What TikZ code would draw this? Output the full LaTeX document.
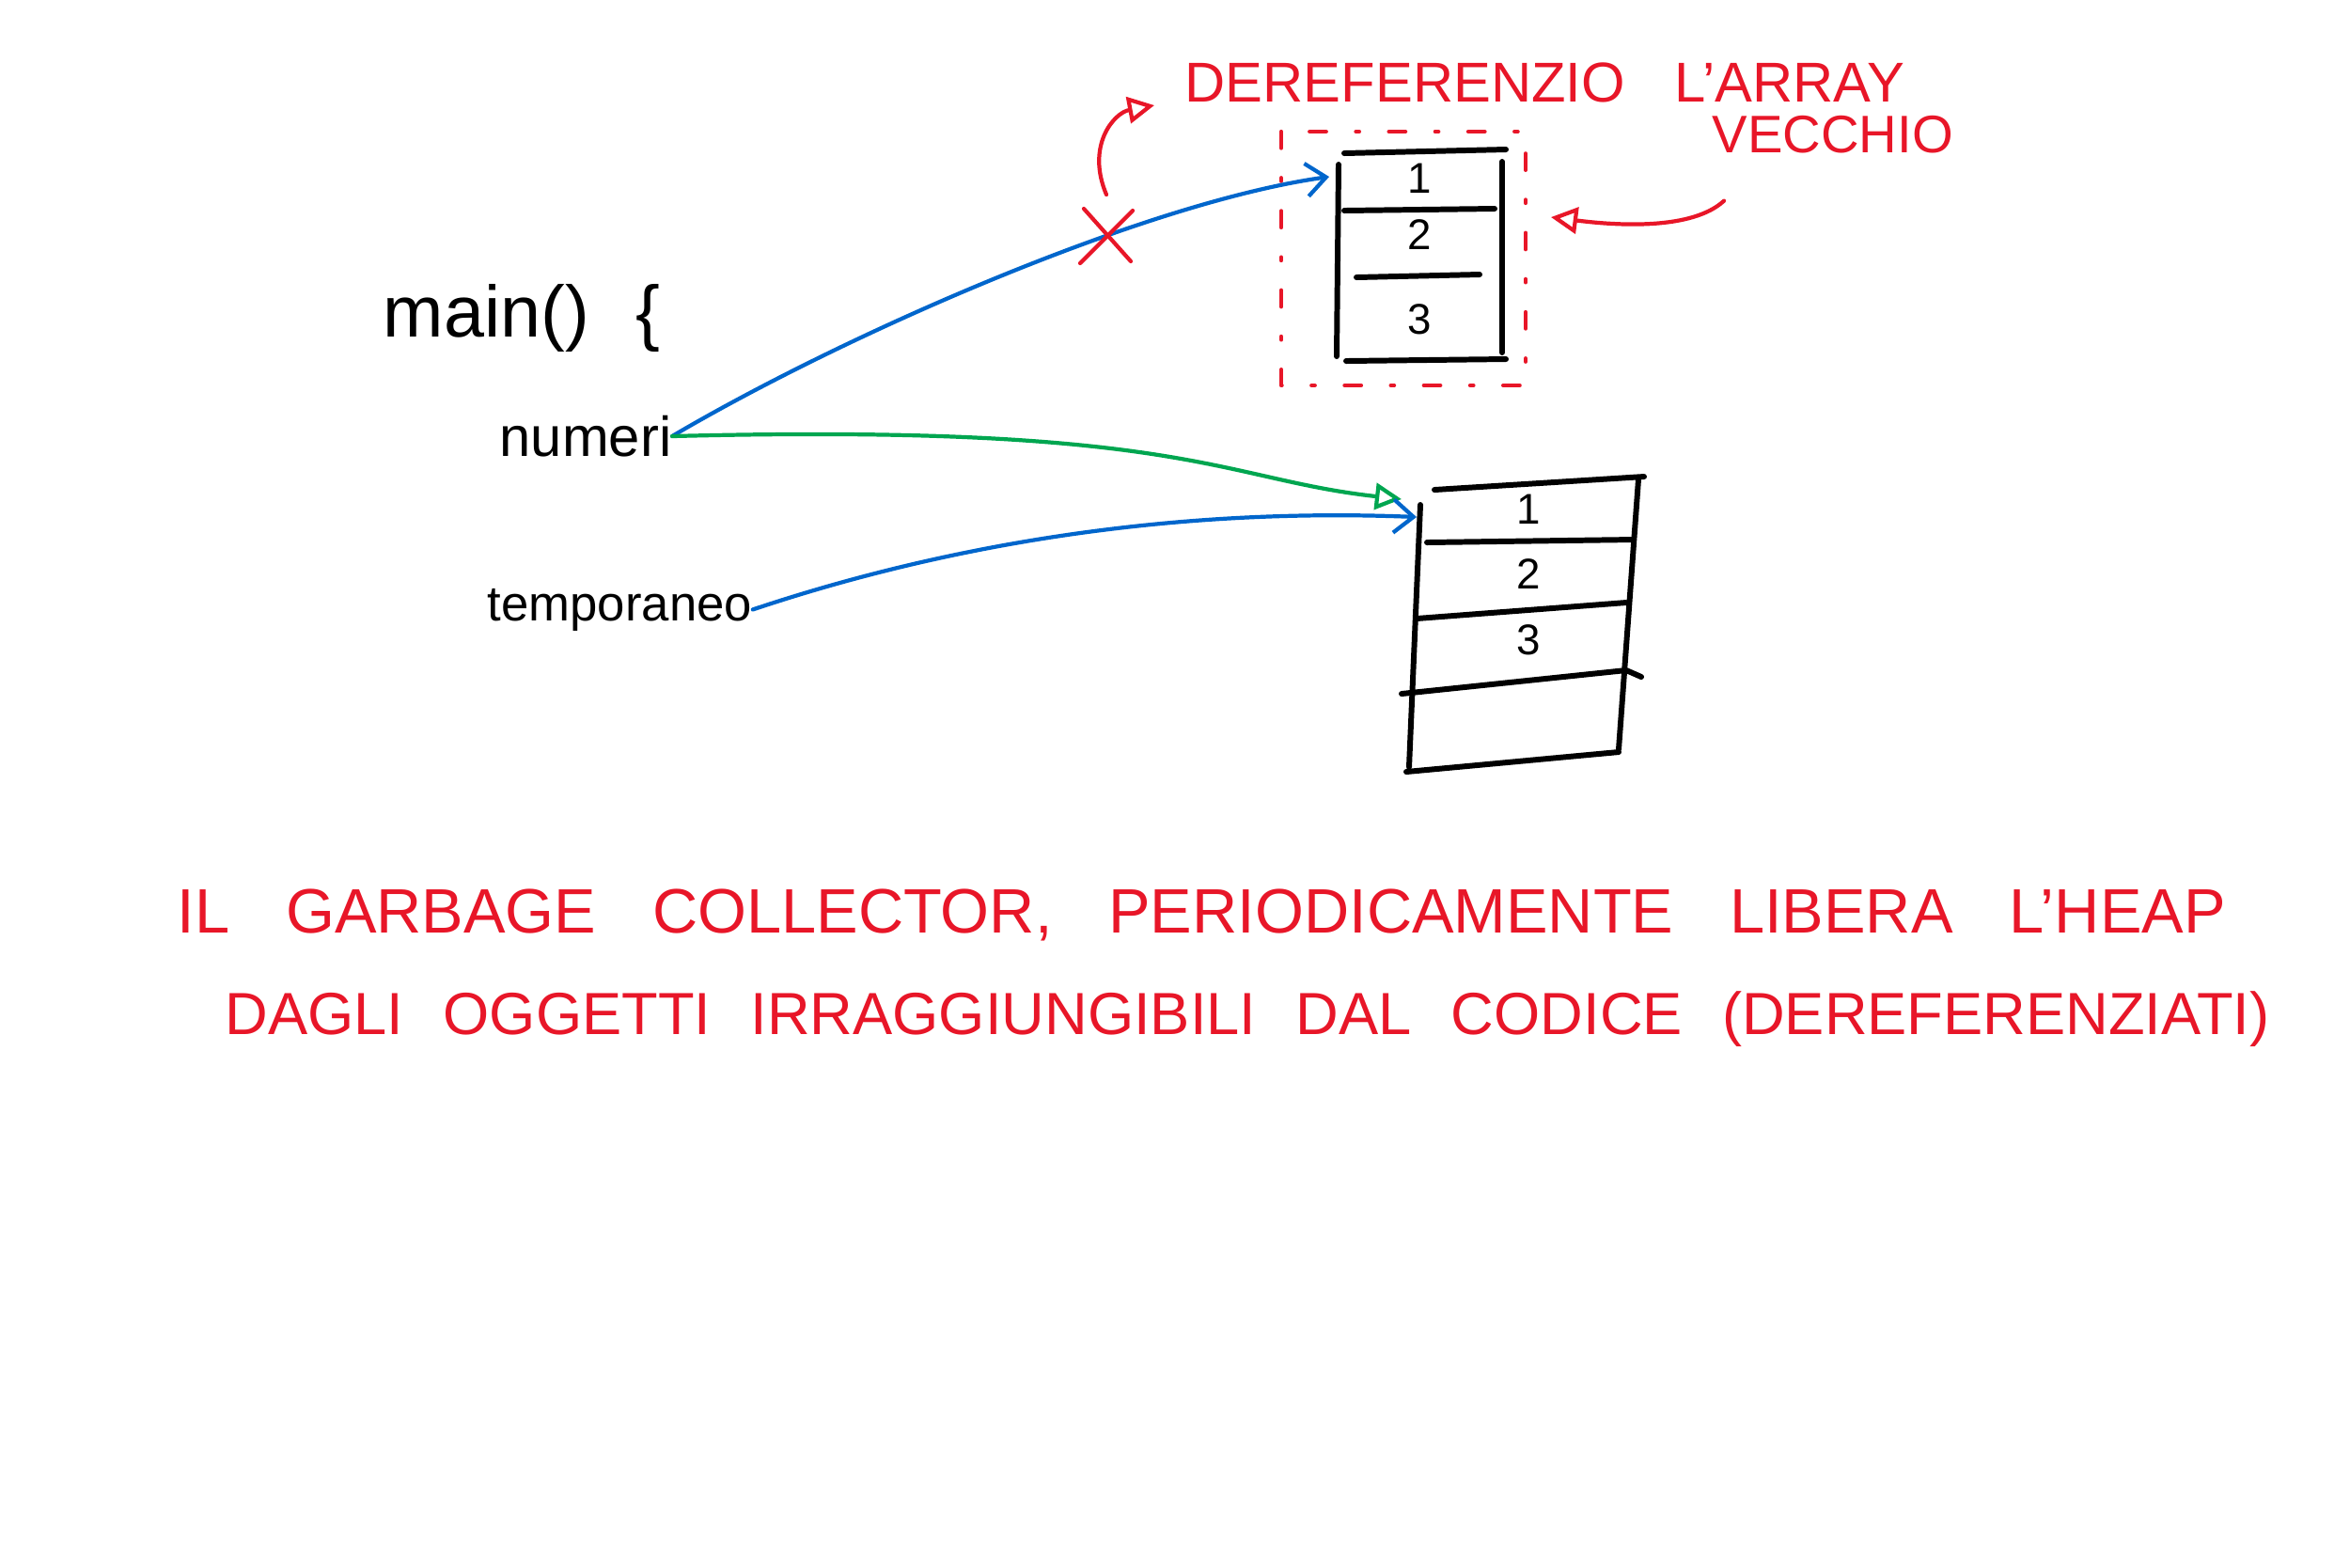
\documentclass[tikz,border=0pt]{standalone}
\usepackage{fontspec}
\setmainfont{Liberation Sans}
\usetikzlibrary{arrows.meta, positioning, calc}
\definecolor{penred}{RGB}{232,22,40}
\definecolor{penblue}{RGB}{0,102,204}
\definecolor{pengreen}{RGB}{0,166,80}
% red handwriting, with wide gaps between words
\newcommand\redtext[2]{\fontsize{#1}{#1}\selectfont\spaceskip=#2pt\relax}

\begin{document}
\begin{tikzpicture}[line cap=round, line join=round,
    ink/.style={line width=1.2pt},
    cell/.style={line width=1.7pt},
    note/.style={penred, inner sep=0pt, anchor=west},
    num/.style={inner sep=0pt, font=\fontsize{13}{13}\selectfont},
    var/.style={inner sep=0pt, anchor=west},
    barb/.style={-{Straight Barb[length=6pt,width=10pt]}},
    tri/.style={-{Triangle[open,length=8pt,width=8pt]}}]
    \fill[white] (0,0) rectangle (25,-16.67);
    \useasboundingbox (0,0) rectangle (25,-16.67);

    % Code on the left:
    \node[var, font=\fontsize{22}{22}\selectfont] (main) at (4.07,-3.38) {main()\hspace{0.5cm}\{};
    \node[var, font=\fontsize{17}{17}\selectfont] (numeri) at (5.31,-4.64) {numeri};
    \node[var, anchor=base west, font=\fontsize{15}{15}\selectfont] (temp) at (5.18,-6.60) {temporaneo};

    % Old array, inside the dashed red frame:
    \begin{scope}[cell]
        \draw (14.30,-1.63) -- (16.02,-1.59);
        \draw (14.24,-1.75) -- (14.22,-3.79);
        \draw (15.98,-1.72) -- (15.98,-3.75);
        \draw (14.30,-2.24) -- (15.90,-2.22);
        \draw (14.43,-2.95) -- (15.74,-2.92);
        \draw (14.32,-3.84) -- (16.02,-3.82);
    \end{scope}
    \foreach \n/\y in {1/-1.90, 2/-2.50, 3/-3.40}{%
        \node[num] (old\n) at (15.10,\y) {\n};
    }
    \draw[penred, ink, dash pattern=on 5pt off 9pt on 1pt off 9pt] (13.63,-1.40) rectangle (16.23,-4.10);

    % New array:
    \begin{scope}[cell]
        \draw (15.26,-5.21) -- (17.49,-5.07);
        \draw (15.11,-5.37) -- (14.99,-8.16);
        \draw (17.43,-5.10) -- (17.22,-7.97);
        \draw (15.18,-5.77) -- (17.38,-5.74);
        \draw (15.07,-6.58) -- (17.30,-6.41);
        \draw (14.91,-7.38) -- (17.30,-7.13) -- (17.46,-7.20);
        \draw (14.96,-8.21) -- (17.22,-8.00);
    \end{scope}
    \foreach \n/\y in {1/-5.42, 2/-6.11, 3/-6.81}{%
        \node[num] (new\n) at (16.26,\y) {\n};
    }

    % Where the arrows land:
    \coordinate (oldin) at (14.14,-1.88);
    \coordinate (greenin) at (14.91,-5.31);
    \coordinate (newin) at (15.07,-5.50);
    \coordinate (cut) at (11.77,-2.52);
    \coordinate (frame) at (16.50,-2.31);

    % References:
    \draw[penblue, ink, barb] (numeri.east) .. controls (9.0,-3.55) and (12.2,-2.15) .. (oldin);
    \draw[pengreen, ink, tri] (numeri.east) .. controls (12.6,-4.50) and (13.0,-5.10) .. (greenin);
    \draw[penblue, ink, barb] (temp.east) .. controls (10.2,-5.75) and (12.6,-5.40) .. (newin);

    % Red notes:
    \draw[penred, ink] ($(cut)+(-0.28,-0.28)$) -- ($(cut)+(0.28,0.28)$);
    \draw[penred, ink] ($(cut)+(-0.24,0.30)$) -- ($(cut)+(0.26,-0.26)$);
    \node[note, font=\redtext{17}{15}] (deref) at (12.60,-0.88) {DEREFERENZIO L'ARRAY};
    \node[note, font=\redtext{16}{10}] (vecchio) at (18.21,-1.43) {VECCHIO};
    \draw[penred, ink, tri] ([yshift=0.45cm]cut) .. controls (11.55,-1.55) and (11.85,-1.20) .. ([shift={(-0.32,-0.24)}]deref.west);
    \draw[penred, ink, tri] ([shift={(0.13,-0.50)}]vecchio.south west) .. controls (18.0,-2.45) and (17.2,-2.40) .. (frame);

    \node[note, font=\redtext{19}{17}] (note1) at (1.88,-9.73) {IL GARBAGE COLLECTOR, PERIODICAMENTE LIBERA L'HEAP};
    \node[note, font=\redtext{18}{12}] (note2) at (2.39,-10.84) {DAGLI OGGETTI IRRAGGIUNGIBILI DAL CODICE (DEREFERENZIATI)};
\end{tikzpicture}
\end{document}
